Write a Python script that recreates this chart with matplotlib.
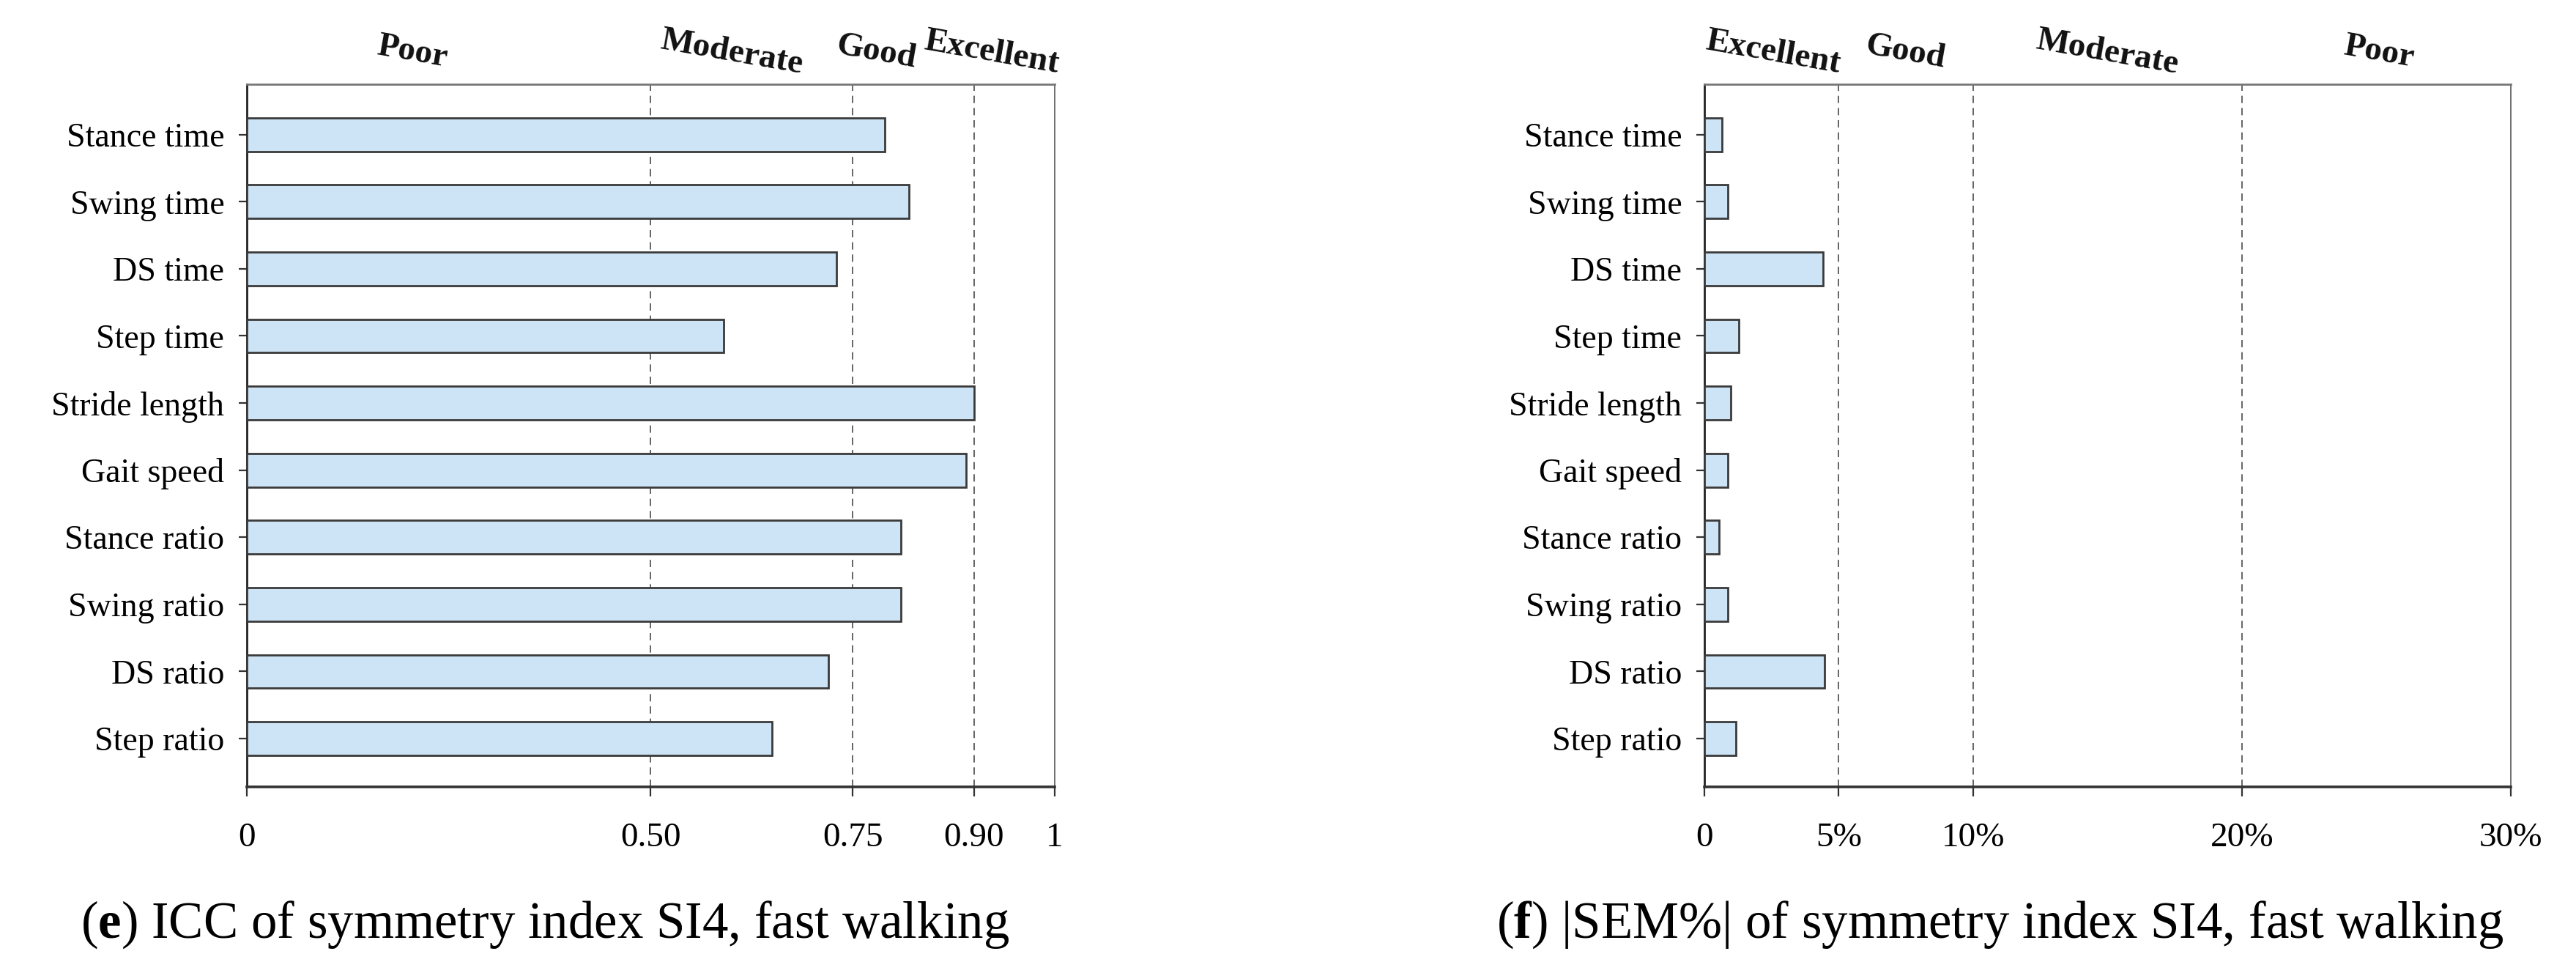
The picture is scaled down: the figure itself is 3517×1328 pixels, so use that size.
import numpy as np
import matplotlib
matplotlib.use("Agg")
import matplotlib.pyplot as plt

# ===== data =====
params = ['Stance time', 'Swing time', 'DS time', 'Step time', 'Stride length',
          'Gait speed', 'Stance ratio', 'Swing ratio', 'DS ratio', 'Step ratio']
icc_vals = [0.79, 0.82, 0.73, 0.59, 0.90, 0.89, 0.81, 0.81, 0.72, 0.65]
sem_vals = [0.65, 0.87, 4.41, 1.29, 0.98, 0.87, 0.56, 0.87, 4.47, 1.18]

icc_ticks = [0, 0.50, 0.75, 0.90, 1]
icc_ticklabels = ['0', '0.50', '0.75', '0.90', '1']
icc_cuts = [0.50, 0.75, 0.90]
icc_zones = ['Poor', 'Moderate', 'Good', 'Excellent']
icc_zone_x = [0.205, 0.60, 0.78, 0.922]

sem_ticks = [0, 5, 10, 20, 30]
sem_ticklabels = ['0', '5%', '10%', '20%', '30%']
sem_cuts = [5, 10, 20]
sem_zones = ['Excellent', 'Good', 'Moderate', 'Poor']
sem_zone_x = [2.55, 7.5, 15.0, 25.1]

captions = [r'($\mathbf{e}$) ICC of symmetry index SI4, fast walking',
            r'($\mathbf{f}$) |SEM%| of symmetry index SI4, fast walking']

# ===== style =====
plt.rcParams.update({
    'font.family': ['Liberation Serif', 'DejaVu Serif'],
    'mathtext.fontset': 'custom',
    'mathtext.rm': 'Liberation Serif',
    'mathtext.bf': 'Liberation Serif:bold',
})
BAR_FACE = '#cde4f6'
BAR_EDGE = '#3a3a3a'


def draw_panel(ax, values, ticks, ticklabels, xmax, cuts, zones, zone_x):
    y = np.arange(len(params))
    ax.barh(y, values, height=0.5, color=BAR_FACE, edgecolor=BAR_EDGE,
            linewidth=1.0, zorder=3)
    for c in cuts:
        ax.axvline(c, color='#4a4a4a', linestyle=(0, (6, 4)), linewidth=0.6, zorder=2)
    ax.set_xlim(0, xmax)
    ax.set_ylim(9.72, -0.75)
    ax.set_yticks(y)
    ax.set_yticklabels(params, fontsize=16.5)
    ax.set_xticks(ticks)
    ax.set_xticklabels(ticklabels, fontsize=17)
    ax.tick_params(axis='y', length=4, width=0.8, pad=7, color='#333333')
    ax.tick_params(axis='x', length=4.5, width=0.8, pad=13, color='#333333')
    ax.spines['left'].set_linewidth(1.0)
    ax.spines['left'].set_color('#222222')
    ax.spines['bottom'].set_linewidth(1.3)
    ax.spines['bottom'].set_color('#333333')
    ax.spines['top'].set_linewidth(1.0)
    ax.spines['top'].set_color('#777777')
    ax.spines['right'].set_linewidth(0.6)
    ax.spines['right'].set_color('#555555')
    for name, xz in zip(zones, zone_x):
        ax.text(xz, 1.045, name, transform=ax.get_xaxis_transform(),
                ha='center', va='center', fontsize=17, fontweight='bold',
                rotation=-10, color='#111111')


fig = plt.figure(figsize=(17.585, 6.64), dpi=200)
ax1 = fig.add_axes([0.0958, 0.1913, 0.3136, 0.7221])
ax2 = fig.add_axes([0.6616, 0.1913, 0.3131, 0.7221])

draw_panel(ax1, icc_vals, icc_ticks, icc_ticklabels, 1.0, icc_cuts, icc_zones, icc_zone_x)
draw_panel(ax2, sem_vals, sem_ticks, sem_ticklabels, 30, sem_cuts, sem_zones, sem_zone_x)

fig.text(744 / 3517, 1 - 1262 / 1328, captions[0], ha='center', va='center', fontsize=25.5)
fig.text(2731 / 3517, 1 - 1262 / 1328, captions[1], ha='center', va='center', fontsize=25.5)

fig.savefig('out.png', dpi=200, facecolor='white')
